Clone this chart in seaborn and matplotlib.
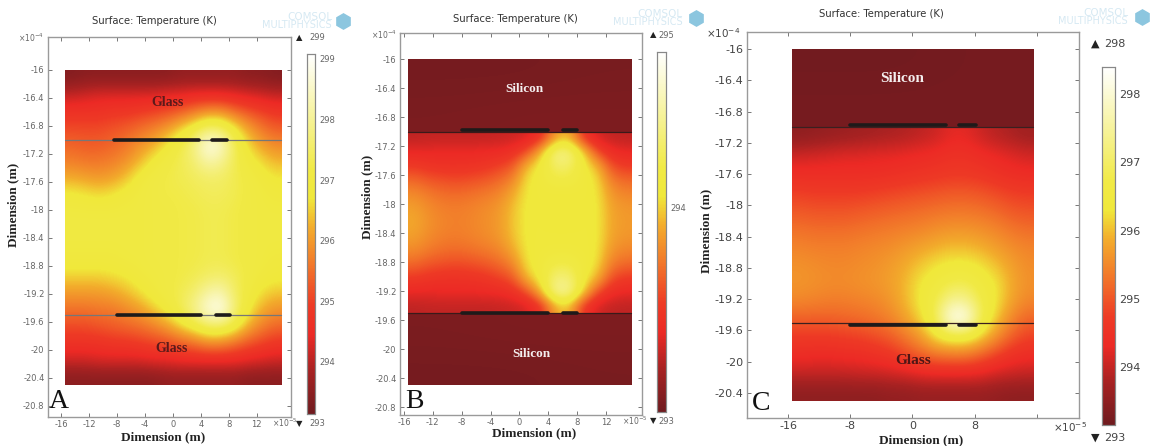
import numpy as np
import matplotlib
matplotlib.use("Agg")
import matplotlib.pyplot as plt
from matplotlib.colors import LinearSegmentedColormap
from matplotlib.lines import Line2D
import seaborn as sns

W, H = 1154, 446
TITLE = "Surface: Temperature (K)"
AXIS_LABEL = "Dimension (m)"

# Temperature fields in K, rows from high y to low y, columns from low x to high x
field_a = [
 [293.4,293.5,293.5,293.5,293.5,293.5,293.5,293.5,293.6,293.6,293.6,293.6,293.6,293.5,293.5,293.4],
 [294.1,294.2,294.3,294.3,294.3,294.3,294.3,294.4,294.4,294.5,294.5,294.5,294.4,294.3,294.2,294.1],
 [294.7,294.7,294.7,294.8,294.8,294.9,295.0,295.1,295.3,295.6,295.9,295.9,295.5,295.2,295.0,294.8],
 [295.1,295.1,295.1,295.2,295.3,295.5,295.7,296.0,296.5,297.0,297.6,297.5,296.8,296.1,295.6,295.3],
 [295.4,295.3,295.3,295.4,295.6,295.9,296.2,296.7,297.2,297.8,298.9,298.6,297.4,296.6,296.1,295.8],
 [295.7,295.6,295.6,295.7,295.9,296.3,296.8,297.1,297.3,297.6,298.2,298.0,297.3,296.9,296.6,296.3],
 [296.2,296.1,296.0,296.1,296.4,296.9,297.1,297.2,297.3,297.4,297.5,297.5,297.3,297.1,296.9,296.7],
 [296.8,296.7,296.6,296.7,296.9,297.0,297.1,297.2,297.2,297.3,297.4,297.4,297.3,297.1,297.0,296.9],
 [297.0,297.0,297.0,297.0,297.0,297.0,297.1,297.1,297.2,297.2,297.3,297.3,297.2,297.1,297.0,297.0],
 [297.0,297.0,297.0,297.0,297.0,297.0,297.1,297.1,297.2,297.2,297.3,297.3,297.2,297.1,297.0,297.0],
 [297.0,297.0,297.0,297.0,297.0,297.0,297.1,297.1,297.2,297.2,297.3,297.3,297.2,297.1,297.0,297.0],
 [296.9,296.9,296.9,296.9,297.0,297.0,297.1,297.1,297.2,297.2,297.3,297.3,297.2,297.1,297.0,296.9],
 [296.5,296.5,296.5,296.6,296.7,296.9,297.0,297.1,297.2,297.3,297.5,297.6,297.4,297.1,296.9,296.8],
 [296.0,296.0,296.0,296.1,296.3,296.6,296.9,297.1,297.3,297.6,298.2,298.4,297.5,297.0,296.6,296.4],
 [295.5,295.5,295.6,295.6,295.8,296.0,296.4,296.8,297.3,297.9,298.7,299.0,297.7,296.8,296.2,295.9],
 [295.1,295.1,295.2,295.3,295.4,295.5,295.7,296.0,296.5,296.9,297.4,297.4,297.0,296.2,295.7,295.4],
 [294.7,294.7,294.7,294.8,294.8,294.9,295.0,295.1,295.3,295.5,295.8,295.8,295.5,295.2,295.0,294.8],
 [294.2,294.2,294.3,294.3,294.3,294.3,294.4,294.4,294.5,294.5,294.5,294.5,294.5,294.4,294.3,294.2],
 [293.5,293.5,293.5,293.5,293.5,293.5,293.5,293.6,293.6,293.6,293.6,293.6,293.6,293.5,293.5,293.5],
]
field_b_top = [[293.03, 293.03, 293.04], [293.05, 293.06, 293.06]]
field_b_mid = [
 [293.27,293.28,293.28,293.28,293.28,293.28,293.29,293.30,293.33,293.45,293.85,293.95,293.50,293.32,293.28,293.27],
 [293.38,293.38,293.39,293.39,293.39,293.40,293.40,293.45,293.60,293.95,294.40,294.40,294.05,293.60,293.42,293.38],
 [293.52,293.48,293.46,293.46,293.47,293.49,293.55,293.62,293.95,294.10,294.30,294.30,294.10,293.95,293.60,293.52],
 [293.68,293.62,293.60,293.58,293.60,293.63,293.68,293.78,294.05,294.10,294.18,294.18,294.10,294.05,293.75,293.68],
 [293.80,293.74,293.70,293.69,293.71,293.74,293.78,293.90,294.07,294.08,294.08,294.08,294.08,294.07,293.84,293.78],
 [293.87,293.80,293.76,293.75,293.77,293.80,293.84,293.96,294.08,294.08,294.07,294.07,294.08,294.08,293.88,293.84],
 [293.90,293.82,293.78,293.76,293.78,293.81,293.85,293.97,294.08,294.08,294.07,294.07,294.08,294.08,293.89,293.85],
 [293.87,293.80,293.76,293.75,293.77,293.80,293.84,293.96,294.08,294.08,294.08,294.08,294.08,294.08,293.88,293.84],
 [293.80,293.74,293.70,293.69,293.71,293.74,293.78,293.90,294.07,294.09,294.10,294.10,294.09,294.07,293.84,293.78],
 [293.68,293.62,293.60,293.58,293.60,293.63,293.68,293.78,294.05,294.11,294.20,294.20,294.11,294.05,293.75,293.68],
 [293.52,293.48,293.46,293.46,293.47,293.49,293.55,293.62,293.95,294.10,294.35,294.35,294.10,293.95,293.60,293.52],
 [293.38,293.38,293.39,293.39,293.39,293.40,293.40,293.45,293.60,293.95,294.45,294.45,294.05,293.60,293.42,293.38],
 [293.27,293.28,293.28,293.28,293.28,293.28,293.29,293.30,293.33,293.47,293.90,293.98,293.50,293.32,293.28,293.27],
]
field_b_bot = [[293.05, 293.06, 293.06], [293.03, 293.03, 293.04]]
field_c_top = [[293.2, 293.2, 293.25], [293.25, 293.25, 293.25]]
field_c_mid = [
 [293.5,293.55,293.6,293.65,293.7,293.75,293.8,293.85,293.95,294.05,294.25,294.25,294.05,293.9,293.8,293.7],
 [294.05,294.1,294.15,294.2,294.2,294.25,294.25,294.3,294.35,294.4,294.5,294.5,294.4,294.3,294.2,294.1],
 [294.4,294.4,294.4,294.4,294.4,294.4,294.45,294.5,294.55,294.6,294.65,294.65,294.6,294.5,294.4,294.35],
 [294.75,294.7,294.7,294.7,294.7,294.75,294.8,294.85,294.9,294.95,295.0,295.0,294.95,294.85,294.75,294.7],
 [295.0,294.95,294.95,294.95,295.0,295.05,295.1,295.15,295.2,295.25,295.3,295.3,295.25,295.15,295.0,294.95],
 [295.25,295.2,295.2,295.2,295.25,295.3,295.35,295.4,295.45,295.55,295.6,295.6,295.55,295.45,295.3,295.2],
 [295.45,295.4,295.4,295.4,295.45,295.5,295.55,295.65,295.75,295.85,295.95,295.95,295.85,295.7,295.55,295.45],
 [295.6,295.55,295.5,295.5,295.55,295.6,295.7,295.85,296.05,296.25,296.35,296.35,296.25,296.0,295.75,295.55],
 [295.65,295.6,295.55,295.55,295.6,295.65,295.75,295.95,296.3,296.5,296.75,296.8,296.5,296.3,295.85,295.6],
 [295.5,295.45,295.4,295.4,295.45,295.5,295.65,295.95,296.35,296.75,297.4,297.4,296.75,296.3,295.8,295.5],
 [295.1,295.1,295.1,295.15,295.2,295.3,295.45,295.75,296.15,296.85,298.4,298.4,296.85,296.1,295.5,295.15],
 [294.7,294.7,294.7,294.75,294.8,294.9,295.05,295.35,295.7,296.25,296.5,296.5,296.15,295.6,295.1,294.8],
 [294.4,294.35,294.35,294.4,294.4,294.5,294.6,294.85,295.1,295.3,295.35,295.35,295.1,294.8,294.5,294.4],
 [294.0,294.0,294.0,294.0,294.05,294.05,294.1,294.15,294.25,294.3,294.3,294.3,294.25,294.1,294.05,294.0],
 [293.5,293.5,293.5,293.5,293.5,293.5,293.55,293.55,293.6,293.6,293.6,293.6,293.6,293.55,293.5,293.5],
]

# Electrode spans (x, in 1e-5 m) and interface heights (y, in 1e-4 m)
electrodes_a = [([-8.5, 3.7], -17.0), ([5.6, 7.8], -17.0), ([-8.0, 4.0], -19.5), ([6.1, 8.1], -19.5)]
electrodes_b = [([-8.0, 4.0], -16.98), ([6.0, 8.0], -16.98), ([-8.0, 4.0], -19.5), ([6.0, 8.0], -19.5)]
electrodes_c = [([-8.0, 4.3], -16.97), ([6.0, 8.2], -16.97), ([-8.0, 4.3], -19.53), ([6.0, 8.2], -19.53)]
interfaces = [-17.0, -19.5]

xticks_ab = [-16, -12, -8, -4, 0, 4, 8, 12]
xticks_c = [-16, -8, 0, 8, 16]
xlabels_c = ["-16", "-8", "0", "8", ""]
yticks_ab = [-16, -16.4, -16.8, -17.2, -17.6, -18, -18.4, -18.8, -19.2, -19.6, -20, -20.4, -20.8]
ylabels_ab = ["-16", "-16.4", "-16.8", "-17.2", "-17.6", "-18", "-18.4", "-18.8", "-19.2", "-19.6", "-20", "-20.4", "-20.8"]
yticks_c = yticks_ab[:-1]
ylabels_c = ylabels_ab[:-1]
cbar_ticks_a = [294, 295, 296, 297, 298, 299]
cbar_ticks_b = [294]
cbar_ticks_c = [294, 295, 296, 297, 298]

stops = [(0.0, "#6f1b1f"), (0.12, "#a82222"), (0.22, "#ec2a25"), (0.30, "#ee3a25"), (0.42, "#f27a2a"),
         (0.52, "#f3ad2c"), (0.60, "#f0e83a"), (0.68, "#f1ea45"), (0.82, "#f6f296"), (1.0, "#ffffff")]
thermal = LinearSegmentedColormap.from_list("thermal", stops)

sns.set_theme(style="white")
plt.rcParams["font.family"] = ["DejaVu Sans"]
fig = plt.figure(figsize=(W / 100, H / 100), dpi=100, facecolor="white")


def rect(x0, y0, x1, y1):
    return [x0 / W, 1 - y1 / H, (x1 - x0) / W, (y1 - y0) / H]


def put(x, y, s, **kw):
    kw.setdefault("ha", "center")
    kw.setdefault("va", "center")
    fig.text(x / W, 1 - y / H, s, **kw)


def layer(ax, grid, bounds, vmin, vmax, cax=None):
    grid = np.array(grid)
    m, n = grid.shape
    ins = ax.inset_axes(bounds, transform=ax.transData, zorder=1)
    sns.heatmap(grid, ax=ins, cmap=thermal, vmin=vmin, vmax=vmax, cbar=cax is not None,
                cbar_ax=cax, xticklabels=False, yticklabels=False)
    ins.imshow(grid, cmap=thermal, vmin=vmin, vmax=vmax, interpolation="bicubic",
               interpolation_stage="data", extent=(0, n, m, 0), aspect="auto", zorder=3)
    ins.set_xlim(0, n)
    ins.set_ylim(m, 0)
    return ins


def panel(box, xlim, ylim, xt, xl, yt, yl, cbox, cticks, fs, tc, layers, vrange, electrodes, line_c):
    ax = fig.add_axes(rect(*box))
    ax.set_xlim(*xlim)
    ax.set_ylim(*ylim)
    ax.set_xticks(xt, xl)
    ax.set_yticks(yt, yl)
    ax.tick_params(direction="in", length=3, width=0.7, color="#777777", labelcolor=tc,
                   labelsize=fs, top=True, right=True, left=True, bottom=True, pad=2.5)
    for s in ax.spines.values():
        s.set_color("#9a9a9a")
        s.set_linewidth(1.0)
    cax = fig.add_axes(rect(*cbox))
    for i, (g, b) in enumerate(layers):
        layer(ax, g, b, vrange[0], vrange[1], cax if i == 0 else None)
    cax.set_yticks(cticks, [str(t) for t in cticks])
    cax.tick_params(direction="in", length=2.5, width=0.6, color="#777777", labelcolor=tc,
                    labelsize=fs, right=True, left=True, pad=3)
    for s in cax.spines.values():
        s.set_visible(True)
        s.set_color("#888888")
        s.set_linewidth(0.8)
    for y in interfaces:
        sns.lineplot(x=[-15.5, 15.5], y=[y, y], ax=ax, color=line_c, linewidth=0.9,
                     errorbar=None, legend=False, zorder=3)
    for xs, y in electrodes:
        sns.lineplot(x=xs, y=[y, y], ax=ax, color="#1e1a1a", linewidth=2.6, errorbar=None,
                     legend=False, solid_capstyle="round", zorder=4)
    ax.set_xlabel("")
    ax.set_ylabel("")
    return ax


def watermark(right, y, cube_x):
    put(right, y - 4, "COMSOL", ha="right", fontsize=7.5, color="#d6e9f3")
    put(right, y + 4, "MULTIPHYSICS", ha="right", fontsize=7, color="#d6e9f3")
    fig.add_artist(Line2D([cube_x / W], [1 - y / H], marker="h", markersize=11, color="#8cc6df",
                          transform=fig.transFigure))


serif = dict(family="Liberation Serif", fontweight="bold")

# Panel A
panel((48, 37, 291, 417), (-17.9, 16.9), (-20.96, -15.53), xticks_ab, [str(t) for t in xticks_ab],
      yticks_ab, ylabels_ab, (307, 54, 315, 414), cbar_ticks_a, 6, "#666666",
      [(field_a, [-15.5, -20.5, 31, 4.5])], (293.14, 299.08), electrodes_a, "#777777")
put(154, 21, TITLE, fontsize=7.2, color="#333333")
watermark(332, 21, 343)
put(163, 437, AXIS_LABEL, fontsize=9.5, color="#222222", **serif)
put(13, 205, AXIS_LABEL, fontsize=9.5, rotation=90, color="#222222", **serif)
put(168, 102, "Glass", fontsize=10, color="#5c1a1a", **serif)
put(172, 349, "Glass", fontsize=10, color="#5c1a1a", **serif)
put(59, 402, "A", fontsize=20, family="Liberation Serif", color="#111111")
put(31, 38, r"×10$^{-4}$", fontsize=5.5, color="#666666")
put(285, 423, r"×10$^{-5}$", fontsize=5.5, color="#666666")
put(299, 38, "▲", fontsize=6, color="#222222")
put(309, 38, "299", ha="left", fontsize=6, color="#666666")
put(299, 424, "▼", fontsize=6, color="#222222")
put(309, 424, "293", ha="left", fontsize=6, color="#666666")

# Panel B
panel((400, 33, 642, 415), (-16.55, 17.0), (-20.91, -15.64), xticks_ab, [str(t) for t in xticks_ab],
      yticks_ab, ylabels_ab, (657, 52, 666, 412), cbar_ticks_b, 6, "#666666",
      [(field_b_mid, [-15.5, -19.5, 31, 2.5]), (field_b_top, [-15.5, -17.0, 31, 1.0]),
       (field_b_bot, [-15.5, -20.5, 31, 1.0])], (293.0, 294.76), electrodes_b, "#3a1a1a")
put(515, 19, TITLE, fontsize=7.2, color="#333333")
watermark(683, 18, 696)
put(534, 433, AXIS_LABEL, fontsize=9.5, color="#222222", **serif)
put(367, 197, AXIS_LABEL, fontsize=9.5, rotation=90, color="#222222", **serif)
put(524, 89, "Silicon", fontsize=9.5, color="#f4eeee", **serif)
put(531, 354, "Silicon", fontsize=9.5, color="#f4eeee", **serif)
put(414, 402, "B", fontsize=20, family="Liberation Serif", color="#111111")
put(384, 35, r"×10$^{-4}$", fontsize=5.5, color="#666666")
put(635, 421, r"×10$^{-5}$", fontsize=5.5, color="#666666")
put(653, 35, "▲", fontsize=6, color="#222222")
put(658, 35, "295", ha="left", fontsize=6, color="#666666")
put(653, 421, "▼", fontsize=6, color="#222222")
put(658, 421, "293", ha="left", fontsize=6, color="#666666")

# Panel C
panel((747, 32, 1079, 418), (-21.27, 21.4), (-20.72, -15.78), xticks_c, xlabels_c,
      yticks_c, ylabels_c, (1102, 67, 1115, 425), cbar_ticks_c, 8, "#444444",
      [(field_c_mid, [-15.5, -20.5, 31, 3.5]), (field_c_top, [-15.5, -17.0, 31, 1.0])],
      (293.15, 298.4), electrodes_c, "#3a2020")
put(881, 14, TITLE, fontsize=7.2, color="#333333")
watermark(1128, 17, 1142)
put(921, 440, AXIS_LABEL, fontsize=9.5, color="#222222", **serif)
put(706, 231, AXIS_LABEL, fontsize=9.5, rotation=90, color="#222222", **serif)
put(902, 79, "Silicon", fontsize=11, color="#f4eeee", **serif)
put(913, 360, "Glass", fontsize=11, color="#4e1616", **serif)
put(761, 404, "C", fontsize=20, family="Liberation Serif", color="#111111")
put(723, 33, r"×10$^{-4}$", fontsize=7.5, color="#444444")
put(1070, 427, r"×10$^{-5}$", fontsize=7.5, color="#444444")
put(1095, 44, "▲", fontsize=8, color="#222222")
put(1104, 44, "298", ha="left", fontsize=8, color="#444444")
put(1095, 438, "▼", fontsize=8, color="#222222")
put(1104, 438, "293", ha="left", fontsize=8, color="#444444")

fig.savefig("out.png", dpi=100)
